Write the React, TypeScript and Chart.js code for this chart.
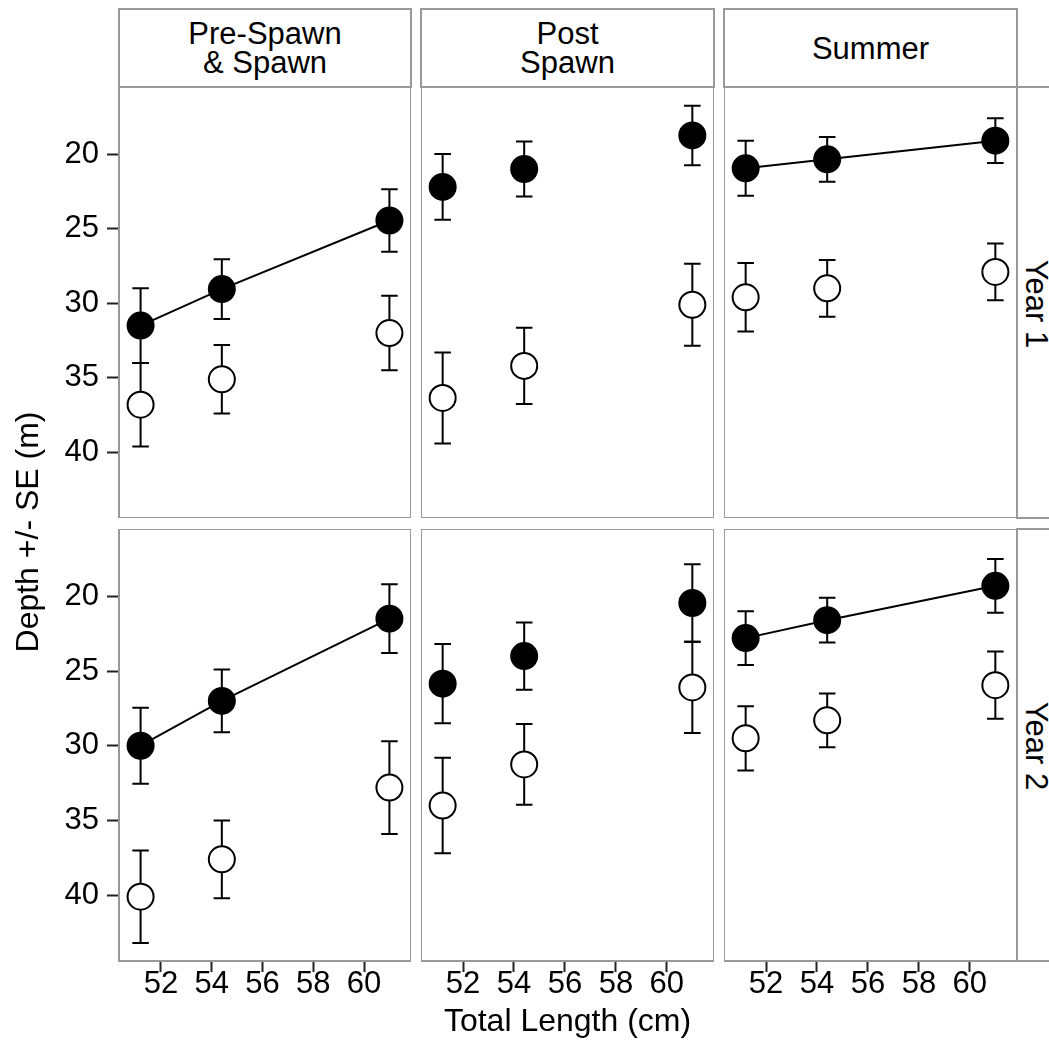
import React, { useEffect, useRef } from "react";
import { Chart, registerables } from "chart.js";

Chart.register(...registerables);

// ---------------- data ----------------
const totalLengths = [51.2, 54.4, 61.0];
const seasonLabels = ["Pre-Spawn\n& Spawn", "Post\nSpawn", "Summer"];
const yearLabels = ["Year 1", "Year 2"];
const xTickValues = [52, 54, 56, 58, 60];
const yTickValues = [20, 25, 30, 35, 40];

// Year 1
const y1PreFilled = [31.5, 29.05, 24.45];
const y1PreFilledSE = [2.5, 2.0, 2.1];
const y1PreOpen = [36.8, 35.1, 32.0];
const y1PreOpenSE = [2.8, 2.3, 2.5];

const y1PostFilled = [22.2, 21.0, 18.75];
const y1PostFilledSE = [2.2, 1.85, 2.0];
const y1PostOpen = [36.35, 34.2, 30.1];
const y1PostOpenSE = [3.05, 2.55, 2.75];

const y1SumFilled = [20.95, 20.35, 19.1];
const y1SumFilledSE = [1.85, 1.5, 1.5];
const y1SumOpen = [29.6, 29.0, 27.9];
const y1SumOpenSE = [2.3, 1.9, 1.9];

// Year 2
const y2PreFilled = [30.0, 27.0, 21.5];
const y2PreFilledSE = [2.55, 2.1, 2.3];
const y2PreOpen = [40.1, 37.6, 32.8];
const y2PreOpenSE = [3.1, 2.6, 3.1];

const y2PostFilled = [25.85, 24.0, 20.45];
const y2PostFilledSE = [2.65, 2.25, 2.6];
const y2PostOpen = [34.0, 31.25, 26.1];
const y2PostOpenSE = [3.2, 2.7, 3.05];

const y2SumFilled = [22.8, 21.6, 19.3];
const y2SumFilledSE = [1.8, 1.5, 1.8];
const y2SumOpen = [29.5, 28.3, 25.95];
const y2SumOpenSE = [2.15, 1.8, 2.25];

// which panels connect the filled points with a line
const connectFilled = [true, false, true];

const X_MIN = 50.35;
const X_MAX = 61.85;
const Y_MIN = 15.5;
const Y_MAX = 44.4;
const ERR_CAP_WIDTH = 0.65;

// ---------------- layout ----------------
const W = 1049;
const H = 1047;
const COL_LEFT = [119, 421, 724];
const COL_RIGHT = [411, 714, 1017];
const ROW_TOP = [87, 529];
const ROW_BOTTOM = [518, 961];
const FONT = "'Liberation Sans', Arial, Helvetica, sans-serif";
const TICK_SIZE = 31;
const TITLE_SIZE = 32;
const STRIP_SIZE = 31;
const BORDER_GREY = "#999999";

type PanelSpec = {
  row: number;
  col: number;
  filled: number[];
  filledSE: number[];
  open: number[];
  openSE: number[];
  line: boolean;
};

const panels: PanelSpec[] = [
  { row: 0, col: 0, filled: y1PreFilled, filledSE: y1PreFilledSE, open: y1PreOpen, openSE: y1PreOpenSE, line: connectFilled[0] },
  { row: 0, col: 1, filled: y1PostFilled, filledSE: y1PostFilledSE, open: y1PostOpen, openSE: y1PostOpenSE, line: connectFilled[1] },
  { row: 0, col: 2, filled: y1SumFilled, filledSE: y1SumFilledSE, open: y1SumOpen, openSE: y1SumOpenSE, line: connectFilled[2] },
  { row: 1, col: 0, filled: y2PreFilled, filledSE: y2PreFilledSE, open: y2PreOpen, openSE: y2PreOpenSE, line: connectFilled[0] },
  { row: 1, col: 1, filled: y2PostFilled, filledSE: y2PostFilledSE, open: y2PostOpen, openSE: y2PostOpenSE, line: connectFilled[1] },
  { row: 1, col: 2, filled: y2SumFilled, filledSE: y2SumFilledSE, open: y2SumOpen, openSE: y2SumOpenSE, line: connectFilled[2] },
];

// ---------------- plugins ----------------
const errorBarPlugin = {
  id: "errorBars",
  beforeDatasetsDraw(chart: any) {
    const { ctx } = chart;
    const xs = chart.scales.x;
    const ys = chart.scales.y;
    ctx.save();
    ctx.strokeStyle = "#000";
    ctx.lineWidth = 2;
    ctx.lineCap = "butt";
    chart.data.datasets.forEach((ds: any) => {
      ds.data.forEach((pt: any, i: number) => {
        const se = ds.errors[i];
        const px = xs.getPixelForValue(pt.x);
        const pLo = ys.getPixelForValue(pt.y - se);
        const pHi = ys.getPixelForValue(pt.y + se);
        const cL = xs.getPixelForValue(pt.x - ERR_CAP_WIDTH / 2);
        const cR = xs.getPixelForValue(pt.x + ERR_CAP_WIDTH / 2);
        ctx.beginPath();
        ctx.moveTo(px, pLo);
        ctx.lineTo(px, pHi);
        ctx.moveTo(cL, pLo);
        ctx.lineTo(cR, pLo);
        ctx.moveTo(cL, pHi);
        ctx.lineTo(cR, pHi);
        ctx.stroke();
      });
    });
    ctx.restore();
  },
};

const panelBorderPlugin = {
  id: "panelBorder",
  afterDraw(chart: any) {
    const { ctx, chartArea: a } = chart;
    ctx.save();
    ctx.strokeStyle = BORDER_GREY;
    ctx.lineWidth = 2;
    ctx.strokeRect(a.left, a.top, a.right - a.left, a.bottom - a.top);
    ctx.restore();
  },
};

function Panel({ p }: { p: PanelSpec }) {
  const ref = useRef<HTMLCanvasElement>(null);
  const showY = p.col === 0;
  const showX = p.row === 1;
  const left = showY ? 0 : COL_LEFT[p.col];
  const width = COL_RIGHT[p.col] - left;
  const top = ROW_TOP[p.row];
  const height = (showX ? H : ROW_BOTTOM[p.row]) - top;
  const xAxisH = showX ? H - ROW_BOTTOM[1] : 0;
  const yAxisW = showY ? COL_LEFT[0] : 0;

  useEffect(() => {
    if (!ref.current) return;
    const tickFont = { family: FONT, size: TICK_SIZE };
    const chart = new Chart(ref.current, {
      type: "scatter",
      data: {
        datasets: [
          {
            label: "filled",
            data: totalLengths.map((x, i) => ({ x, y: p.filled[i] })),
            errors: p.filledSE,
            showLine: p.line,
            borderColor: "#000",
            borderWidth: 2,
            pointRadius: 13,
            pointHoverRadius: 13,
            pointBorderWidth: 2,
            pointBackgroundColor: "#000",
            pointBorderColor: "#000",
            order: 0,
          } as any,
          {
            label: "open",
            data: totalLengths.map((x, i) => ({ x, y: p.open[i] })),
            errors: p.openSE,
            showLine: false,
            borderColor: "#000",
            borderWidth: 2,
            pointRadius: 13,
            pointHoverRadius: 13,
            pointBorderWidth: 2,
            pointBackgroundColor: "#fff",
            pointBorderColor: "#000",
            order: 1,
          } as any,
        ],
      },
      options: {
        animation: false,
        responsive: false,
        maintainAspectRatio: false,
        events: [],
        layout: { padding: 0, autoPadding: false } as any,
        plugins: { legend: { display: false }, tooltip: { enabled: false } },
        scales: {
          x: {
            type: "linear",
            min: X_MIN,
            max: X_MAX,
            display: showX,
            afterFit: (s: any) => {
              s.height = xAxisH;
              s.paddingLeft = 0;
              s.paddingRight = 0;
            },
            afterBuildTicks: (s: any) => {
              s.ticks = xTickValues.map((v) => ({ value: v }));
            },
            grid: {
              drawOnChartArea: false,
              drawTicks: true,
              tickLength: 11,
              tickWidth: 2,
              tickColor: "#222",
            },
            border: { display: false },
            ticks: {
              padding: -3,
              color: "#000",
              font: { ...tickFont, lineHeight: 1 },
              maxRotation: 0,
              minRotation: 0,
              autoSkip: false,
            },
          },
          y: {
            type: "linear",
            reverse: true,
            min: Y_MIN,
            max: Y_MAX,
            display: showY,
            afterFit: (s: any) => {
              s.width = yAxisW;
              s.paddingTop = 0;
              s.paddingBottom = 0;
            },
            afterBuildTicks: (s: any) => {
              s.ticks = yTickValues.map((v) => ({ value: v }));
            },
            grid: {
              drawOnChartArea: false,
              drawTicks: true,
              tickLength: 12,
              tickWidth: 2,
              tickColor: "#222",
            },
            border: { display: false },
            ticks: { padding: 8, color: "#000", font: tickFont, autoSkip: false },
          },
        },
      } as any,
      plugins: [panelBorderPlugin, errorBarPlugin],
    } as any);
    return () => chart.destroy();
  }, []);

  return (
    <canvas
      ref={ref}
      width={width}
      height={height}
      style={{ position: "absolute", left, top, width, height, display: "block" }}
    />
  );
}

export default function App() {
  return (
    <div
      style={{
        position: "fixed",
        left: 0,
        top: 0,
        width: W,
        height: H,
        overflow: "hidden",
        background: "#fff",
        fontFamily: FONT,
        color: "#000",
      }}
    >
      {/* top strips */}
      {seasonLabels.map((s, c) => (
        <div
          key={s}
          style={{
            position: "absolute",
            left: COL_LEFT[c] - 1,
            top: 8,
            width: COL_RIGHT[c] - COL_LEFT[c] + 2,
            height: ROW_TOP[0] + 1 - 8,
            boxSizing: "border-box",
            border: `2px solid ${BORDER_GREY}`,
            display: "flex",
            alignItems: "center",
            justifyContent: "center",
            textAlign: "center",
            whiteSpace: "pre-line",
            fontSize: STRIP_SIZE,
            lineHeight: "29px",
          }}
        >
          {s}
        </div>
      ))}
      {/* right strips */}
      {yearLabels.map((y, r) => (
        <div
          key={y}
          style={{
            position: "absolute",
            left: COL_RIGHT[2] - 1,
            top: ROW_TOP[r] - 1,
            width: 80,
            height: ROW_BOTTOM[r] - ROW_TOP[r] + 2,
            boxSizing: "border-box",
            border: `2px solid ${BORDER_GREY}`,
          }}
        >
          <div
            style={{
              position: "absolute",
              left: 1036 - (COL_RIGHT[2] - 1) - 2 - 150,
              top: (ROW_BOTTOM[r] - ROW_TOP[r]) / 2 - 15,
              width: 300,
              height: 30,
              lineHeight: "30px",
              fontSize: STRIP_SIZE,
              textAlign: "center",
              transform: "rotate(90deg)",
              whiteSpace: "nowrap",
            }}
          >
            {y}
          </div>
        </div>
      ))}
      {panels.map((p) => (
        <Panel key={`${p.row}-${p.col}`} p={p} />
      ))}
      {/* x axis title */}
      <div
        style={{
          position: "absolute",
          left: COL_LEFT[1] - 100,
          width: COL_RIGHT[1] - COL_LEFT[1] + 200,
          top: 1004,
          height: 32,
          lineHeight: "32px",
          fontSize: TITLE_SIZE,
          textAlign: "center",
          whiteSpace: "nowrap",
        }}
      >
        Total Length (cm)
      </div>
      {/* y axis title */}
      <div
        style={{
          position: "absolute",
          left: 27 - 250,
          top: 532 - 16,
          width: 500,
          height: 32,
          lineHeight: "32px",
          fontSize: TITLE_SIZE,
          textAlign: "center",
          transform: "rotate(-90deg)",
          whiteSpace: "nowrap",
        }}
      >
        Depth +/- SE (m)
      </div>
    </div>
  );
}
